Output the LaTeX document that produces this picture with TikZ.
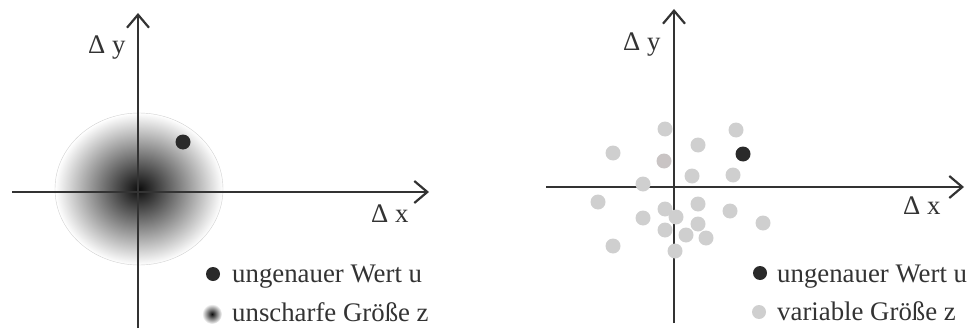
\documentclass[tikz,border=0pt]{standalone}
\usepackage{fontspec}
\setmainfont{Liberation Serif}
\usepackage{tikz}
\usetikzlibrary{arrows.meta, positioning, shapes.geometric}
\definecolor{axisgray}{HTML}{333333}
\definecolor{dotdark}{HTML}{2A2A2A}
\definecolor{dotlight}{HTML}{CFCFCF}
\definecolor{dotrose}{HTML}{C9C4C4}

\begin{document}
\begin{tikzpicture}[
    x=1pt, y=-1pt,
    axis/.style={draw=axisgray, line width=2.4pt, -{Straight Barb[length=13pt, width=22pt, line width=2.2pt]}},
    lbl/.style={anchor=base west, inner sep=0pt, text=axisgray, font=\fontsize{26.8}{30}\selectfont},
    ptdark/.style={circle, fill=dotdark, minimum size=15pt, inner sep=0pt},
    ptlight/.style={circle, fill=dotlight, minimum size=15pt, inner sep=0pt},
    blur/.style={ellipse, inner sep=0pt, inner color=black!95, outer color=white, draw=gray!35, line width=0.4pt, shade}
]

% Frame
\useasboundingbox (0,0) rectangle (973,329);

% Left panel: unscharfe Groesse
\node[blur, minimum width=168pt, minimum height=152pt] (fuzzy) at (139,189) {};

\coordinate (lxs) at (12,192);
\coordinate (lxe) at (429,192);
\coordinate (lys) at (138,328);
\coordinate (lye) at (138,13);
\draw[axis] (lxs) -- (lxe);
\draw[axis] (lys) -- (lye);

\node[lbl] (ldy) at (88,53) {Δ y};
\node[lbl] (ldx) at (371,222) {Δ x};

\node[ptdark] (lu) at (183,142) {};

% Left legend
\node[ptdark, minimum size=14pt] (lkeyu) at (213,274) {};
\node[lbl] (ltxtu) at (232,282) {ungenauer Wert u};
\node[blur, minimum width=20pt, minimum height=20pt, draw=none] (lkeyz) at (212,314) {};
\node[lbl] (ltxtz) at (232,321) {unscharfe Größe z};

% Right panel: variable Groesse
\coordinate (rxs) at (546,187);
\coordinate (rxe) at (964,187);
\coordinate (rys) at (674,323);
\coordinate (rye) at (674,9);
\draw[axis] (rxs) -- (rxe);
\draw[axis] (rys) -- (rye);

\node[lbl] (rdy) at (623,51) {Δ y};
\node[lbl] (rdx) at (903,214) {Δ x};

\foreach \px/\py [count=\i] in {665/129, 736/130, 698/145, 613/153, 692/176, 733/175,
    643/184, 598/202, 698/204, 730/211, 665/209, 676/217, 643/218, 763/223,
    698/224, 665/230, 686/235, 706/238, 613/246, 675/251}
  \node[ptlight] (z\i) at (\px,\py) {};
\node[ptlight, fill=dotrose] (zr) at (664,161) {};

\node[ptdark] (ru) at (743,154) {};

% Right legend
\node[ptdark, minimum size=14pt] (rkeyu) at (760,273) {};
\node[lbl] (rtxtu) at (777,282) {ungenauer Wert u};
\node[ptlight, minimum size=14pt] (rkeyz) at (759,312) {};
\node[lbl] (rtxtz) at (777,320) {variable Größe z};

\end{tikzpicture}
\end{document}
